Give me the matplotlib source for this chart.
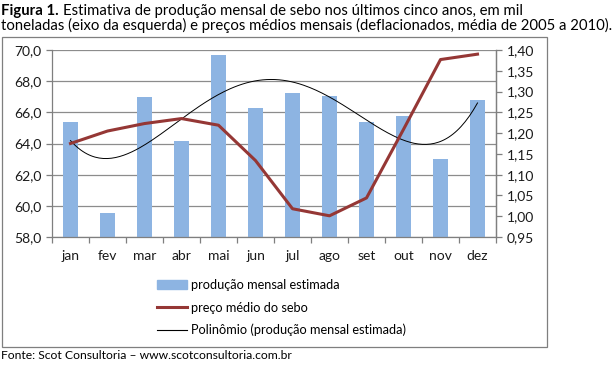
import matplotlib
matplotlib.use("Agg")
import matplotlib.pyplot as plt
import numpy as np
from matplotlib.patches import Rectangle
from matplotlib.lines import Line2D
from matplotlib.ticker import FuncFormatter, MultipleLocator

plt.rcParams['font.family'] = ['Lato', 'DejaVu Sans']

meses = ['jan', 'fev', 'mar', 'abr', 'mai', 'jun', 'jul', 'ago', 'set', 'out', 'nov', 'dez']
producao = [65.35, 59.55, 67.0, 64.15, 69.65, 66.3, 67.25, 67.05, 65.4, 65.75, 63.0, 66.8]
preco = [1.175, 1.205, 1.223, 1.235, 1.219, 1.134, 1.018, 1.001, 1.044, 1.209, 1.377, 1.390]

W, H = 616, 366
fig = plt.figure(figsize=(W / 100, H / 100), dpi=100)

def fx(px):
    return px / W

def fy(py):
    return 1 - py / H

# outer frame of the chart
fig.patches.append(Rectangle((fx(2), fy(347)), fx(545), (347 - 37) / H,
                             transform=fig.transFigure, fill=False,
                             edgecolor='#7f7f7f', linewidth=0.9))

ax = fig.add_axes([fx(52), fy(237), fx(496 - 52), (237 - 50) / H])
x = np.arange(len(meses))

ax.bar(x, producao, width=0.4, color='#8db4e2', zorder=2)
ax.set_ylim(58, 70)
ax.set_xlim(-0.5, len(meses) - 0.5)
ax.yaxis.set_major_locator(MultipleLocator(2))
ax.yaxis.set_major_formatter(FuncFormatter(lambda v, p: ('%.1f' % v).replace('.', ',')))
ax.grid(axis='y', color='#8c8c8c', linewidth=0.9, zorder=0)
ax.set_axisbelow(True)

# polynomial trend (excel style), fitted to the bars
coef = np.polyfit(x + 1, producao, 4)
xs = np.linspace(0, len(meses) - 1, 200)
ax.plot(xs, np.polyval(coef, xs + 1), color='black', linewidth=0.7, zorder=4)

ax.set_xticks(x)
ax.set_xticklabels(meses)
ax.set_xticks(np.arange(-0.5, len(meses)), minor=True)
ax.tick_params(axis='x', which='major', length=0, pad=9)
ax.tick_params(axis='x', which='minor', length=4, color='#7f7f7f', width=0.9)
ax.tick_params(axis='y', length=4, color='#7f7f7f', width=0.9)
ax.spines['top'].set_visible(False)
for s in ['left', 'bottom', 'right']:
    ax.spines[s].set_color('#7f7f7f')
    ax.spines[s].set_linewidth(0.9)

ax2 = ax.twinx()
ax2.plot(x, preco, color='#953735', linewidth=2.2, zorder=5)
ax2.set_ylim(0.95, 1.40)
ax2.yaxis.set_major_locator(MultipleLocator(0.05))
ax2.yaxis.set_major_formatter(FuncFormatter(lambda v, p: ('%.2f' % v).replace('.', ',')))
ax2.tick_params(axis='y', length=4, color='#7f7f7f', width=0.9)
ax2.spines['top'].set_visible(False)
ax2.spines['right'].set_color('#7f7f7f')
ax2.spines['right'].set_linewidth(0.9)
ax2.spines['left'].set_visible(False)
ax2.spines['bottom'].set_visible(False)

for a in (ax, ax2):
    for lab in a.get_xticklabels() + a.get_yticklabels():
        lab.set_fontsize(10)
        lab.set_color('#1a1a1a')

handles = [Rectangle((0, 0), 1, 1, color='#8db4e2'),
           Line2D([], [], color='#953735', linewidth=2.2),
           Line2D([], [], color='black', linewidth=0.8)]
labels = ['produção mensal estimada', 'preço médio do sebo',
          'Polinômio (produção mensal estimada)']
fig.legend(handles, labels, loc='upper left', bbox_to_anchor=(fx(151), fy(273)),
           frameon=False, fontsize=9.2, handlelength=2.35, handletextpad=0.25,
           labelspacing=0.8, borderpad=0)

# title: fit second line to the width seen in the reference
fig.canvas.draw()
r = fig.canvas.get_renderer()
line2 = 'toneladas (eixo da esquerda) e preços médios mensais (deflacionados, média de 2005 a 2010).'
t2 = fig.text(fx(1), fy(30), line2, fontsize=11, va='baseline')
w2 = t2.get_window_extent(renderer=r).width
fs = 11 * 610 / w2
t2.set_fontsize(fs)
t1 = fig.text(fx(1), fy(15), 'Figura 1.', fontsize=fs, fontweight='bold', va='baseline')
bb = t1.get_window_extent(renderer=r)
fig.text(bb.x1 / W + fx(4), fy(15),
         'Estimativa de produção mensal de sebo nos últimos cinco anos, em mil',
         fontsize=fs, va='baseline')
fig.text(fx(1), fy(359), 'Fonte: Scot Consultoria – www.scotconsultoria.com.br',
         fontsize=8.7, va='baseline')

fig.savefig('out.png', dpi=100)
